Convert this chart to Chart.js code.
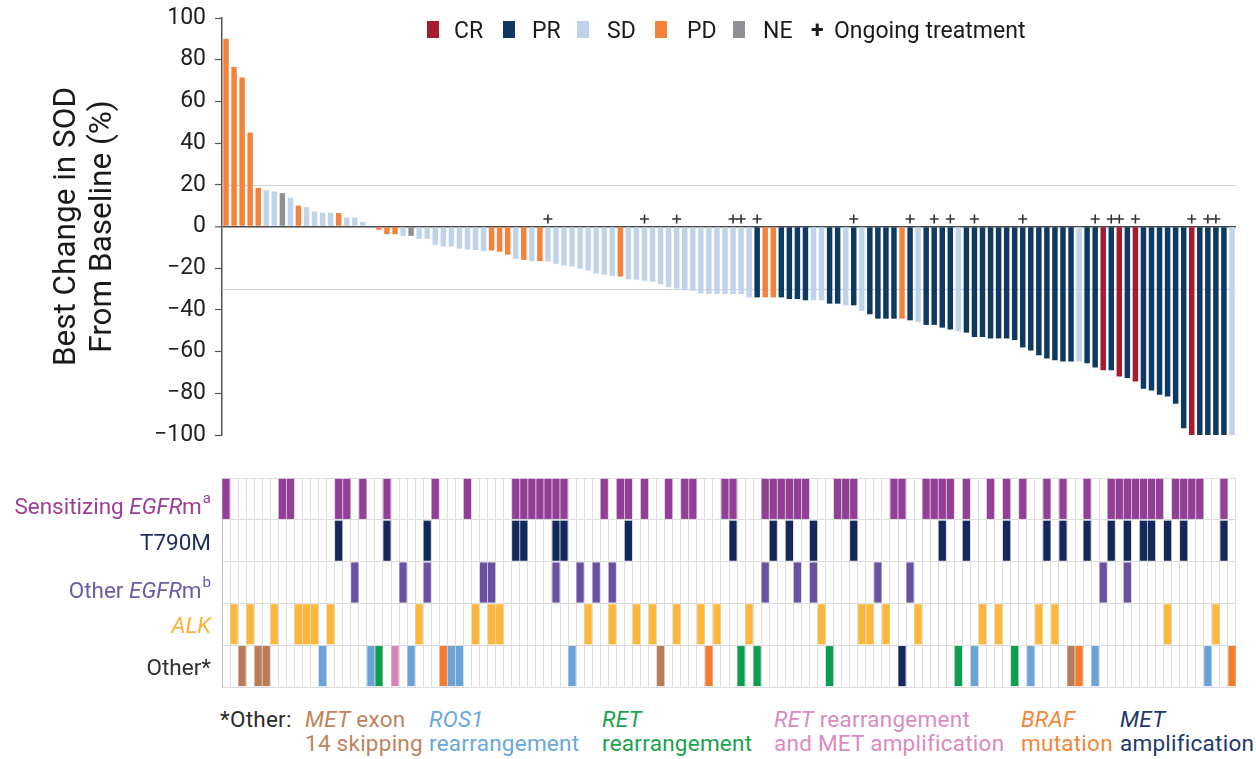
<!DOCTYPE html>
<html>
<head>
<meta charset="utf-8">
<script src="https://cdn.jsdelivr.net/npm/chart.js@4.4.1/dist/chart.umd.min.js"></script>
<style>
  html, body { margin: 0; padding: 0; background: #fff; }
  body { width: 1256px; height: 759px; position: relative; overflow: hidden;
         font-family: Roboto, "Liberation Sans", Arial, sans-serif; }
  canvas { position: absolute; left: 0; }
  #wf { top: -10px; }
  #hm { top: 460px; }
  .sw { position: absolute; width: 12px; height: 17px; }
  .lt { position: absolute; font-size: 23px; line-height: 23px; color: #1a1a1a; white-space: nowrap; }
  .row { position: absolute; right: 1045px; font-size: 22.5px; line-height: 24px; white-space: nowrap; text-align: right; }
  .row sup { font-size: 15px; position: relative; top: -2px; margin-left: 1px; }
  .ot { position: absolute; top: 707px; font-size: 22.5px; line-height: 24px; letter-spacing: 0.25px; white-space: nowrap; }
</style>
</head>
<body>
<canvas id="wf" width="1256" height="470"></canvas>
<canvas id="hm" width="1256" height="240"></canvas>
<div id="legend"></div>
<div id="rowLabels"></div>

<div class="ot" style="left:220px;color:#2b2b2b">*Other:</div>
<div class="ot" style="left:305px;color:#c0845d"><i>MET</i> exon<br>14 skipping</div>
<div class="ot" style="left:429px;color:#6aa7da"><i>ROS1</i><br>rearrangement</div>
<div class="ot" style="left:602px;color:#19a24e"><i>RET</i><br>rearrangement</div>
<div class="ot" style="left:774px;color:#d98bbf"><i>RET</i> rearrangement<br>and MET amplification</div>
<div class="ot" style="left:1021px;color:#f4863a"><i>BRAF</i><br>mutation</div>
<div class="ot" style="left:1120px;color:#22386b"><i>MET</i><br>amplification</div>

<script>
// Best change in sum of diameters from baseline (%), one value per patient
const bestChange = [
  90, 76.5, 71.5, 45, 18.5, 17.4, 16.8, 16, 13.8, 10,
  9.3, 7.2, 6.6, 6.6, 6.4, 4.3, 4.3, 2.2, 0, -1.6,
  -3.7, -3.7, -4.5, -4.5, -5.9, -5.9, -8.8, -9.6, -9.6, -10.6,
  -11, -11.3, -11.8, -11.5, -12.1, -13.5, -15.5, -16, -16.6, -16.6,
  -16.8, -17.9, -18.7, -19.2, -20.3, -21.1, -22.6, -23.1, -23.7, -24,
  -25.3, -25.5, -26, -26.5, -27.7, -29.2, -29.8, -30.5, -30.8, -32.1,
  -32.4, -32.4, -32.4, -32.4, -32.4, -34, -34, -34, -34, -34,
  -34.8, -34.8, -35.4, -35.4, -35.4, -37, -37, -37.8, -37.8, -40.5,
  -42.1, -44.2, -44.2, -44.2, -44.2, -45, -45.8, -47.2, -47.2, -48.5,
  -49.4, -50.1, -50.9, -53, -53, -53.7, -53.7, -53.7, -54.5, -58,
  -59.5, -61.7, -63.3, -64.1, -64.8, -64.8, -64.8, -65.6, -67.6, -69,
  -69, -72, -72.7, -74.3, -77.8, -78.6, -80.7, -81.5, -85, -96.8,
  -100, -100, -100, -100, -100, -100
];

// Best overall response per patient
const responses = [
  'PD','PD','PD','PD','PD','SD','SD','NE','SD','PD',
  'SD','SD','SD','SD','PD','SD','SD','SD','SD','PD',
  'PD','PD','SD','NE','SD','SD','SD','SD','SD','SD',
  'SD','SD','SD','PD','PD','PD','SD','PD','SD','PD',
  'SD','SD','SD','SD','SD','SD','SD','SD','SD','PD',
  'SD','SD','SD','SD','SD','SD','SD','SD','SD','SD',
  'SD','SD','SD','SD','SD','SD','PR','PD','PD','PR',
  'PR','PR','PR','SD','SD','PR','PR','SD','PR','SD',
  'PR','PR','PR','PR','PD','PR','SD','PR','PR','PR',
  'PR','SD','PR','PR','PR','PR','PR','PR','PR','PR',
  'PR','PR','PR','PR','PR','PR','SD','PR','PR','CR',
  'PR','CR','PR','CR','PR','PR','PR','PR','PR','PR',
  'CR','PR','PR','PR','PR','SD'
];

// Patients still on treatment
const ongoing = [40, 52, 56, 63, 64, 66, 78, 85, 88, 90, 93, 99, 108, 110, 111, 113, 120, 122, 123];

// Molecular alterations: patient indices carrying each one
const sensitizingCols = [0, 7, 8, 14, 15, 17, 20, 26, 30, 36, 37, 38, 39, 40, 41, 42, 47, 49, 50, 52, 55, 57, 58, 62, 63,
  67, 68, 69, 70, 71, 72, 76, 77, 78, 83, 84, 87, 88, 89, 90, 92, 95, 97, 99, 102, 104, 107,
  110, 111, 112, 113, 114, 115, 116, 118, 119, 120, 121, 124];
const t790mCols = [14, 20, 25, 36, 37, 41, 42, 50, 63, 68, 70, 73, 78, 89, 92, 97, 102, 104, 107, 110, 112, 114, 115, 117, 119, 124];
const otherEgfrCols = [16, 22, 25, 32, 33, 41, 44, 46, 48, 67, 71, 73, 81, 85, 109, 112];
const alkCols = [1, 3, 6, 9, 10, 11, 13, 24, 31, 33, 34, 45, 48, 51, 53, 56, 59, 61, 65, 74, 79, 80, 82, 86, 94, 96, 101, 103, 117, 123];
const metEx14Cols = [2, 4, 5, 54, 105];
const ros1Cols = [12, 18, 23, 28, 29, 43, 93, 100, 108, 122];
const retCols = [19, 64, 66, 75, 91, 98];
const retMetAmpCols = [21];
const brafCols = [27, 60, 106, 125];
const metAmpCols = [84];

const responseNames = ['CR', 'PR', 'SD', 'PD', 'NE'];
const yTicks = [100, 80, 60, 40, 20, 0, -20, -40, -60, -80, -100];
const referenceLines = [20, -30];
const ongoingLevel = 3.6;

const responseColors = { CR: '#a51b2f', PR: '#0e3a62', SD: '#bfd4eb', PD: '#f5823a', NE: '#8e9096' };
const patientIdx = bestChange.map((_, i) => i);
const FONT = 'Roboto, "Liberation Sans", Arial, sans-serif';

// Light reference lines behind the bars
const refLinePlugin = {
  id: 'refLines',
  beforeDatasetsDraw(chart) {
    const { ctx, chartArea, scales: { y } } = chart;
    ctx.save();
    ctx.strokeStyle = '#d2d2d2';
    ctx.lineWidth = 1.2;
    referenceLines.forEach(v => {
      const py = Math.round(y.getPixelForValue(v)) + 0.5;
      ctx.beginPath();
      ctx.moveTo(chartArea.left, py);
      ctx.lineTo(chartArea.right, py);
      ctx.stroke();
    });
    ctx.restore();
  }
};

// Waterfall of best change from baseline
const wf = new Chart(document.getElementById('wf'), {
  type: 'bar',
  data: {
    labels: patientIdx,
    datasets: [
      {
        type: 'line',
        data: patientIdx.map(i => ongoing.includes(i) ? ongoingLevel : null),
        showLine: false,
        pointStyle: 'cross',
        pointRadius: 4.5,
        pointBorderWidth: 1.6,
        pointBorderColor: '#333',
        borderColor: '#333',
        order: 0
      },
      {
        type: 'bar',
        data: bestChange,
        backgroundColor: responses.map(r => responseColors[r]),
        barPercentage: 0.68,
        categoryPercentage: 1,
        grouped: false,
        order: 1
      }
    ]
  },
  options: {
    responsive: false,
    animation: false,
    devicePixelRatio: 1,
    layout: { autoPadding: false, padding: { top: 28, right: 20, bottom: 25, left: 0 } },
    plugins: { legend: { display: false }, tooltip: { enabled: false } },
    scales: {
      x: {
        offset: true,
        grid: { display: false },
        ticks: { display: false },
        border: { display: false },
        afterFit(s) { s.height = 0; }
      },
      y: {
        min: -100, max: 100,
        afterBuildTicks(s) { s.ticks = yTicks.map(v => ({ value: v })); },
        ticks: {
          callback: v => v < 0 ? '\u2212' + Math.abs(v) : String(v),
          font: { family: FONT, size: 23 },
          color: '#222',
          padding: 9
        },
        grid: {
          color: c => (c.tick && c.tick.value === 0) ? '#4a4a4a' : 'rgba(0,0,0,0)',
          lineWidth: c => (c.tick && c.tick.value === 0) ? 1.6 : 1,
          tickLength: 7,
          tickColor: '#555',
          tickWidth: 1.2
        },
        border: { display: true, color: '#555', width: 1.5 },
        title: {
          display: true,
          text: ['Best Change in SOD', 'From Baseline (%)'],
          font: { family: FONT, size: 31.5, lineHeight: 1.143 },
          color: '#1a1a1a',
          padding: { top: 49, bottom: 0 }
        },
        afterFit(s) { s.width = 222; }
      }
    }
  },
  plugins: [refLinePlugin]
});

// Alteration grid below the waterfall
const cellSets = [
  { cols: sensitizingCols, row: 0, color: '#943f97' },
  { cols: t790mCols, row: 1, color: '#13295e' },
  { cols: otherEgfrCols, row: 2, color: '#6a51a3' },
  { cols: alkCols, row: 3, color: '#fdb83b' },
  { cols: metEx14Cols, row: 4, color: '#ba7c56' },
  { cols: ros1Cols, row: 4, color: '#68a4d7' },
  { cols: retCols, row: 4, color: '#0ba04f' },
  { cols: retMetAmpCols, row: 4, color: '#d882b8' },
  { cols: brafCols, row: 4, color: '#f47a2e' },
  { cols: metAmpCols, row: 4, color: '#14285d' }
];

const hm = new Chart(document.getElementById('hm'), {
  type: 'bar',
  data: {
    labels: patientIdx,
    datasets: cellSets.map(s => ({
      data: patientIdx.map(i => s.cols.includes(i) ? [s.row + 0.02, s.row + 0.98] : null),
      backgroundColor: s.color,
      borderWidth: 0,
      barPercentage: 0.9,
      categoryPercentage: 1,
      grouped: false
    }))
  },
  options: {
    responsive: false,
    animation: false,
    devicePixelRatio: 1,
    layout: { autoPadding: false, padding: { top: 18, right: 20, bottom: 13, left: 0 } },
    plugins: { legend: { display: false }, tooltip: { enabled: false } },
    scales: {
      x: {
        offset: true,
        grid: { offset: true, color: '#dedede', lineWidth: 1, drawTicks: false },
        ticks: { display: false },
        border: { display: false },
        afterFit(s) { s.height = 0; }
      },
      y: {
        min: 0, max: 5, reverse: true,
        ticks: { display: false, stepSize: 1 },
        grid: { color: '#dcdcdc', lineWidth: 1, drawTicks: false },
        border: { display: true, color: '#c4c4c4', width: 1 },
        afterFit(s) { s.width = 222; }
      }
    }
  }
});

// Response legend across the top
const legend = document.getElementById('legend');
const legendX = { CR: [427, 454], PR: [503, 532], SD: [577, 607], PD: [655, 687], NE: [733, 763] };
responseNames.forEach(name => {
  const sw = document.createElement('div');
  sw.className = 'sw';
  sw.style.left = legendX[name][0] + 'px';
  sw.style.top = '21px';
  sw.style.background = responseColors[name];
  legend.appendChild(sw);
  const t = document.createElement('div');
  t.className = 'lt';
  t.style.left = legendX[name][1] + 'px';
  t.style.top = '19px';
  t.textContent = name;
  legend.appendChild(t);
});
const plus = document.createElement('div');
plus.className = 'lt';
plus.style.left = '811px';
plus.style.top = '19px';
plus.style.fontWeight = '700';
plus.textContent = '+';
legend.appendChild(plus);
const og = document.createElement('div');
og.className = 'lt';
og.style.left = '834px';
og.style.top = '19px';
og.textContent = 'Ongoing treatment';
legend.appendChild(og);

// Row labels, placed on the grid rows
const rowLabelHtml = [
  ['Sensitizing <i>EGFR</i>m<sup>a</sup>', '#9a3e96'],
  ['T790M', '#1f2f5c'],
  ['Other <i>EGFR</i>m<sup>b</sup>', '#6a5ba6'],
  ['<i>ALK</i>', '#fbb03b'],
  ['Other*', '#2f2f2f']
];
const rowBox = document.getElementById('rowLabels');
rowLabelHtml.forEach(([html, color], r) => {
  const d = document.createElement('div');
  d.className = 'row';
  d.style.color = color;
  d.innerHTML = html;
  const cy = 460 + hm.scales.y.getPixelForValue(r + 0.5);
  d.style.top = (cy - 11) + 'px';
  rowBox.appendChild(d);
});
</script>
</body>
</html>
